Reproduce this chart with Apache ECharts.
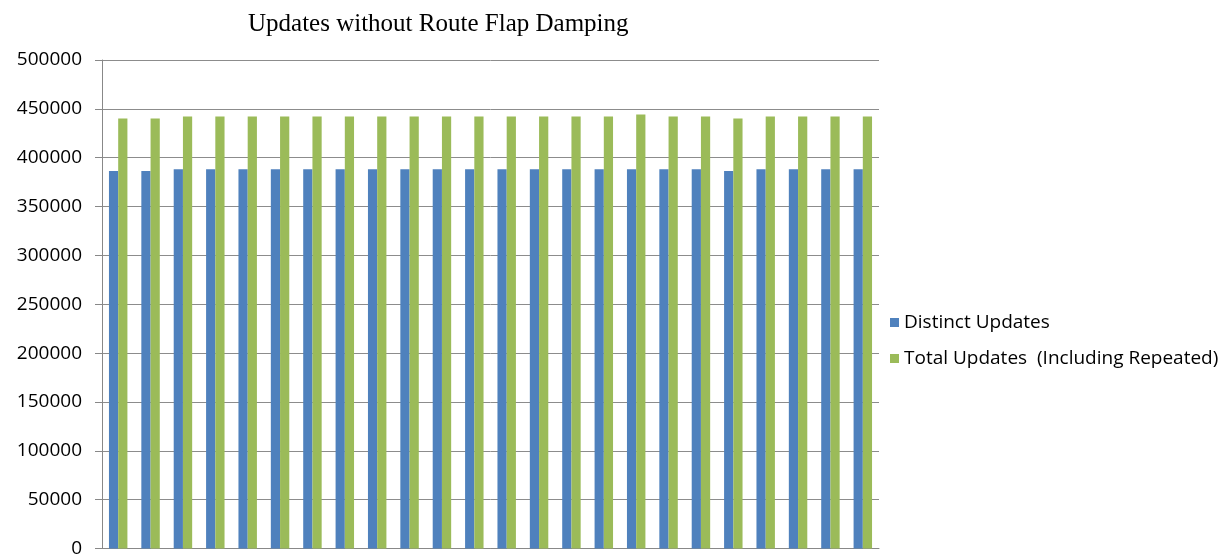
<!DOCTYPE html>
<html>
<head>
<meta charset="utf-8">
<script src="https://cdn.jsdelivr.net/npm/echarts@6/dist/echarts.min.js"></script>
<style>html,body{margin:0;padding:0;background:#fff;}#c{width:1225px;height:558px;}</style>
</head>
<body>
<div id="c"></div>
<script>
const categories = ["1","2","3","4","5","6","7","8","9","10","11","12","13","14","15","16","17","18","19","20","21","22","23","24"];
const distinctUpdates = [386500,386500,388200,388200,388200,388200,388200,388200,388200,388200,388200,388200,388200,388200,388200,388200,388200,388200,388200,386500,388200,388200,388200,388200];
const totalUpdates = [440200,440200,442100,442100,442100,442100,442100,442100,442100,442100,442100,442100,442100,442100,442100,442100,444100,442100,442100,440200,442100,442100,442100,442100];
const yTicks = [0,50000,100000,150000,200000,250000,300000,350000,400000,450000,500000];

const chart = echarts.init(document.getElementById('c'), null, {renderer:'canvas'});
chart.setOption({
  animation:false,
  backgroundColor:'#ffffff',
  title:{
    text:'Updates without Route Flap Damping',
    left:243, top:7,
    textStyle:{fontFamily:'Liberation Serif', fontSize:25, fontWeight:'normal', color:'#000'}
  },
  legend:{
    orient:'vertical', left:885, top:308, itemGap:17,
    itemWidth:9, itemHeight:9, icon:'rect',
    textStyle:{fontFamily:'Open Sans', fontSize:19, color:'#000'},
    data:['Distinct Updates','Total Updates  (Including Repeated)']
  },
  grid:{left:102, right:346, top:60, bottom:3, containLabel:false},
  xAxis:{
    type:'category', data:categories,
    axisLine:{show:true, lineStyle:{color:'#888', width:1}},
    axisTick:{show:false}, axisLabel:{show:false}, splitLine:{show:false}
  },
  yAxis:{
    type:'value', min:yTicks[0], max:yTicks[yTicks.length-1], interval:50000,
    axisLine:{show:true, lineStyle:{color:'#888', width:1}},
    axisTick:{show:true, length:7, lineStyle:{color:'#888'}},
    axisLabel:{margin:20, fontFamily:'Open Sans', fontSize:19, color:'#000', formatter:function(v){return String(v);}},
    splitLine:{show:true, lineStyle:{color:'#8c8c8c', width:1}}
  },
  series:[
    {name:'Distinct Updates', type:'bar', data:distinctUpdates, itemStyle:{color:'#4F81BD'}, barGap:'0%', barCategoryGap:'43%'},
    {name:'Total Updates  (Including Repeated)', type:'bar', data:totalUpdates, itemStyle:{color:'#9BBB59'}, barGap:'0%', barCategoryGap:'43%'}
  ]
});
</script>
</body>
</html>
